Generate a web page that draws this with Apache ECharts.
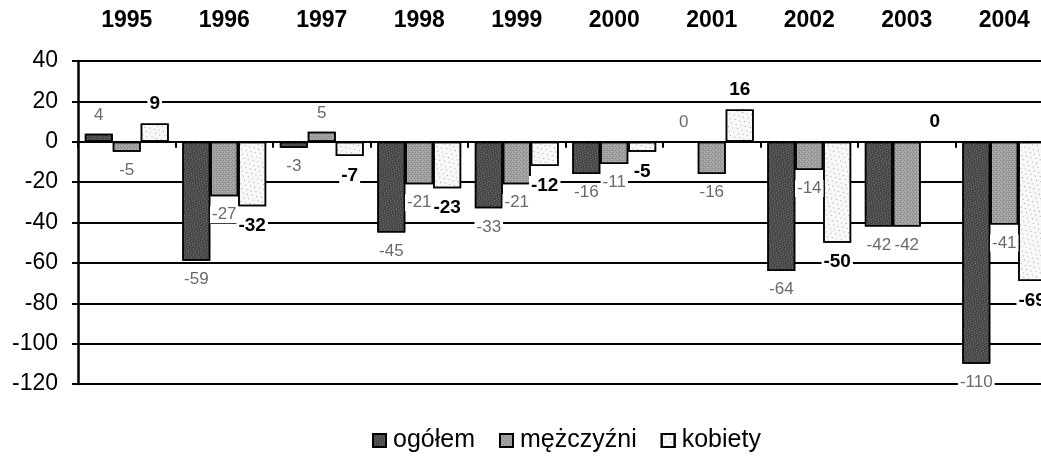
<!DOCTYPE html>
<html>
<head>
<meta charset="utf-8">
<script src="https://cdn.jsdelivr.net/npm/echarts@6/dist/echarts.min.js"></script>
<style>
    html, body { margin: 0; padding: 0; background: #fff; overflow: hidden; }
    /* wykres jest szerszy niż okno, ostatni słupek ma być ucięty jak w oryginale */
    #chart { width: 1065px; height: 461px; }
</style>
</head>
<body>
<div id="chart"></div>
<script>
    // dane z wykresu
    const years = ['1995', '1996', '1997', '1998', '1999', '2000', '2001', '2002', '2003', '2004']
    const ogolem = [4, -59, -3, -45, -33, -16, 0, -64, -42, -110]
    const mezczyzni = [-5, -27, 5, -21, -21, -11, -16, -14, -42, -41]
    const kobiety = [9, -32, -7, -23, -12, -5, 16, -50, 0, -69]
    const yTicks = [-120, -100, -80, -60, -40, -20, 0, 20, 40]

    const font = 'Arial, "Liberation Sans", sans-serif'

    // etykieta nad słupkiem dla dodatnich, pod słupkiem dla ujemnych
    function withLabels (values) {
        return values.map(function (v) {
            return { value: v, label: { position: v < 0 ? 'bottom' : 'top' } }
        })
    }

    const grayLabel = {
        show: true,
        distance: 10,
        color: '#6a6a6a',
        fontSize: 17,
        fontFamily: font,
        backgroundColor: '#fff',
        padding: [0, 2]
    }
    const boldLabel = {
        show: true,
        distance: 10,
        color: '#000',
        fontSize: 19,
        fontWeight: 'bold',
        fontFamily: font,
        backgroundColor: '#fff',
        padding: [0, 2]
    }

    let myChart = echarts.init(document.getElementById('chart'))
    myChart.setOption({
        animation: false,
        aria: { enabled: true, decal: { show: true } },
        textStyle: { fontFamily: font },
        legend: {
            left: 367,
            top: 423,
            icon: 'rect',
            itemWidth: 13,
            itemHeight: 13,
            itemGap: 24,
            textStyle: { fontSize: 25, color: '#000', fontFamily: font, padding: [0, 0, 0, 2] },
            data: ['ogółem', 'mężczyźni', 'kobiety']
        },
        grid: { left: 78, top: 61, width: 975, height: 323 },
        xAxis: [{
            type: 'category',
            data: years,
            position: 'top',
            axisLine: { show: false, onZero: false },
            axisTick: { show: false },
            axisLabel: {
                margin: 29,
                fontSize: 23,
                fontWeight: 'bold',
                color: '#000',
                fontFamily: font
            }
        }, {
            type: 'category',
            data: years,
            position: 'bottom',
            axisLine: { show: true, onZero: true, lineStyle: { color: '#000', width: 2 } },
            axisTick: { show: true, length: 6, lineStyle: { color: '#000', width: 2 } },
            axisLabel: { show: false }
        }],
        yAxis: {
            type: 'value',
            min: yTicks[0],
            max: yTicks[yTicks.length - 1],
            interval: 20,
            axisLine: { show: true, lineStyle: { color: '#000', width: 2.5 } },
            axisTick: { show: true, length: 6, lineStyle: { color: '#000', width: 2 } },
            splitLine: { show: true, lineStyle: { color: '#000', width: 2 } },
            axisLabel: {
                margin: 20,
                fontSize: 23,
                color: '#000',
                fontFamily: font
            }
        },
        series: [{
            name: 'ogółem',
            type: 'bar',
            data: withLabels(ogolem),
            barGap: '0%',
            barCategoryGap: '14%',
            itemStyle: {
                color: '#454545',
                borderColor: '#000',
                borderWidth: 1.5,
                decal: {
                    symbol: 'rect',
                    symbolSize: 1,
                    dashArrayX: [[1, 2], [0, 1, 1, 1]],
                    dashArrayY: [1, 1],
                    color: 'rgba(255,255,255,0.3)'
                }
            },
            label: grayLabel
        }, {
            name: 'mężczyźni',
            type: 'bar',
            data: withLabels(mezczyzni),
            itemStyle: {
                color: '#a5a5a5',
                borderColor: '#000',
                borderWidth: 1.5,
                decal: {
                    symbol: 'rect',
                    symbolSize: 1,
                    dashArrayX: [[1, 2], [0, 1, 1, 1]],
                    dashArrayY: [1, 1],
                    color: 'rgba(40,40,40,0.3)'
                }
            },
            label: grayLabel
        }, {
            name: 'kobiety',
            type: 'bar',
            data: withLabels(kobiety),
            itemStyle: {
                color: '#f8f8f8',
                borderColor: '#000',
                borderWidth: 1.5,
                decal: {
                    symbol: 'rect',
                    symbolSize: 1,
                    dashArrayX: [[1, 4], [0, 2, 1, 2]],
                    dashArrayY: [1, 3],
                    color: 'rgba(80,80,80,0.5)'
                }
            },
            label: boldLabel
        }]
    })
    window.onresize = myChart.resize
</script>
</body>
</html>
